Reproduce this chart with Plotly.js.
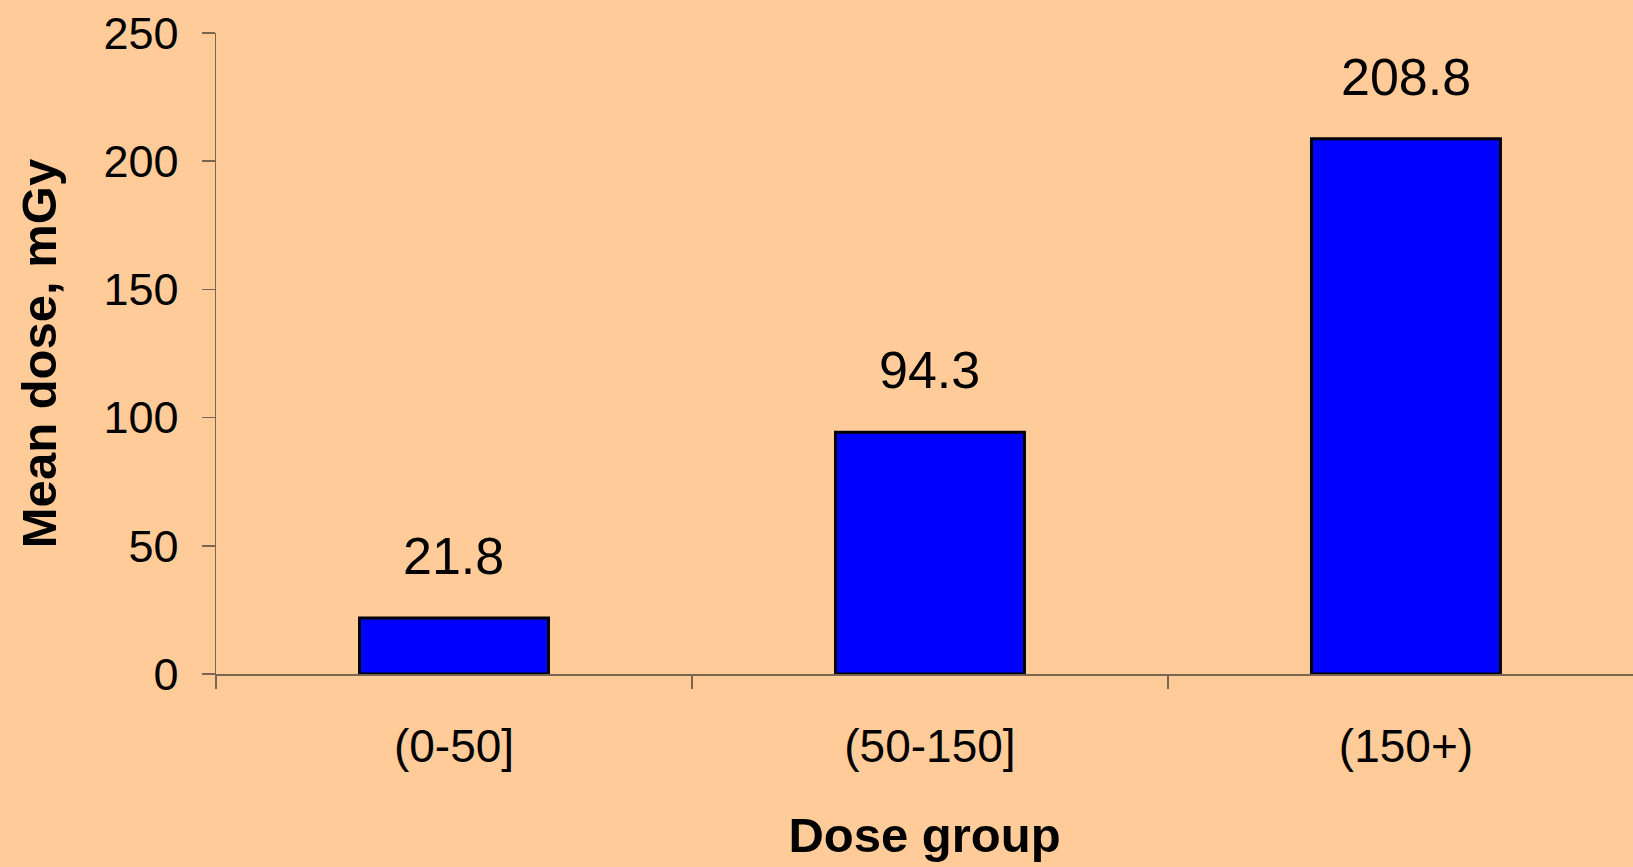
<!DOCTYPE html>
<html>
<head>
<meta charset="utf-8">
<script src="https://cdn.plot.ly/plotly-3.0.1.min.js"></script>
<style>html,body{margin:0;padding:0;background:#FFCC99;}#chart{width:1633px;height:867px;}</style>
</head>
<body>
<div id="chart"></div>
<script>
const categories = ["(0-50]", "(50-150]", "(150+)"];
const meanDose = [21.8, 94.3, 208.8];
const valueLabels = ["21.8", "94.3", "208.8"];
const yTickValues = [0, 50, 100, 150, 200, 250];

const FONT = "Liberation Sans, Arial, sans-serif";
const AXIS = "#7a6650";

const trace = {
  type: "bar",
  x: categories,
  y: meanDose,
  width: 0.397,
  marker: {color: "#0000FF", line: {color: "#000000", width: 3}},
  hoverinfo: "x+y"
};

const annotations = categories.map((c, i) => ({
  x: c, y: meanDose[i], xref: "x", yref: "y",
  text: valueLabels[i], showarrow: false,
  yanchor: "middle", yshift: 62,
  font: {family: FONT, size: 52, color: "#000"}
}));

const layout = {
  width: 1633, height: 867,
  paper_bgcolor: "#FFCC99", plot_bgcolor: "#FFCC99",
  margin: {l: 216, r: 0, t: 33, b: 193},
  showlegend: false,
  font: {family: FONT, color: "#000"},
  xaxis: {
    type: "category",
    range: [-0.5, 2.477],
    showline: true, linecolor: AXIS, linewidth: 1.5,
    ticks: "outside", ticklen: 13, tickcolor: AXIS, tickwidth: 1.5,
    tickson: "boundaries",
    tickfont: {family: FONT, size: 46, color: "#000"},
    ticklabelstandoff: 31,
    showgrid: false, zeroline: false,
    title: {text: "Dose group", font: {family: FONT, size: 49, color: "#000", weight: "bold"}, standoff: 47}
  },
  yaxis: {
    range: [0, 250],
    tickvals: yTickValues,
    showline: true, linecolor: AXIS, linewidth: 1.5,
    ticks: "outside", ticklen: 13, tickcolor: AXIS, tickwidth: 1.5,
    tickfont: {family: FONT, size: 45, color: "#000"},
    ticklabelstandoff: 14,
    showgrid: false, zeroline: false,
    title: {text: "Mean dose, mGy", font: {family: FONT, size: 49, color: "#000", weight: "bold"}, standoff: 31}
  },
  annotations: annotations
};

Plotly.newPlot("chart", [trace], layout, {displayModeBar: false, staticPlot: true});
</script>
</body>
</html>
